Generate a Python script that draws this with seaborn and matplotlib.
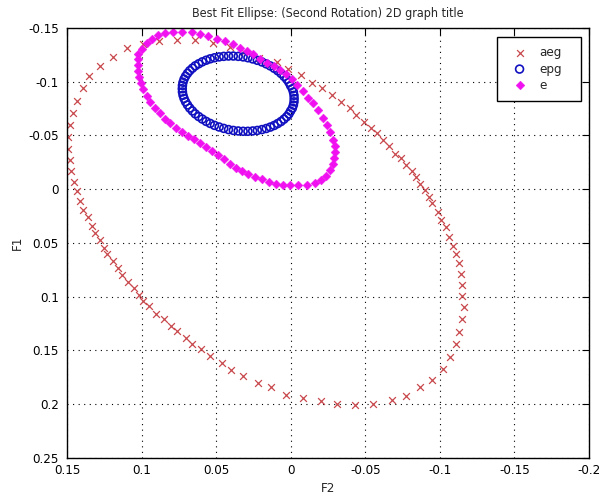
import matplotlib
matplotlib.use('Agg')
import matplotlib.pyplot as plt
import pandas as pd
import seaborn as sns

# aeg: red crosses (F2 on x, F1 on y)
aeg_f2 = [0.149, 0.149, 0.148, 0.146, 0.143, 0.139, 0.135, 0.128, 0.119, 0.110,
          0.099, 0.088, 0.076, 0.064, 0.052, 0.041, 0.031, 0.021, 0.009, 0.002,
          -0.007, -0.014, -0.021, -0.028, -0.034, -0.040, -0.044, -0.049, -0.054, -0.058,
          -0.062, -0.066, -0.070, -0.074, -0.077, -0.081, -0.084, -0.087, -0.090, -0.093,
          -0.095, -0.099, -0.101, -0.104, -0.106, -0.109, -0.111, -0.113, -0.114, -0.115,
          -0.115, -0.116, -0.115, -0.113, -0.111, -0.107, -0.102, -0.095, -0.087, -0.077,
          -0.068, -0.055, -0.043, -0.031, -0.020, -0.008, 0.003, 0.013, 0.022, 0.032,
          0.040, 0.046, 0.054, 0.060, 0.066, 0.070, 0.076, 0.080, 0.085, 0.090,
          0.095, 0.099, 0.102, 0.105, 0.109, 0.113, 0.116, 0.119, 0.123, 0.125,
          0.128, 0.131, 0.133, 0.136, 0.139, 0.141, 0.143, 0.145, 0.147, 0.148]
aeg_f1 = [-0.037, -0.049, -0.060, -0.071, -0.082, -0.094, -0.105, -0.115, -0.123, -0.131,
          -0.135, -0.138, -0.139, -0.139, -0.136, -0.132, -0.128, -0.122, -0.118, -0.112,
          -0.106, -0.099, -0.094, -0.088, -0.081, -0.076, -0.069, -0.063, -0.057, -0.052,
          -0.046, -0.040, -0.033, -0.029, -0.023, -0.017, -0.011, -0.005, 0.001, 0.007,
          0.013, 0.021, 0.029, 0.035, 0.044, 0.053, 0.060, 0.069, 0.079, 0.089,
          0.099, 0.110, 0.121, 0.133, 0.144, 0.156, 0.167, 0.177, 0.184, 0.192,
          0.196, 0.200, 0.201, 0.200, 0.197, 0.194, 0.191, 0.184, 0.180, 0.174,
          0.168, 0.162, 0.155, 0.149, 0.144, 0.138, 0.132, 0.127, 0.121, 0.116,
          0.109, 0.104, 0.098, 0.092, 0.086, 0.080, 0.073, 0.067, 0.060, 0.055,
          0.047, 0.041, 0.034, 0.026, 0.019, 0.011, 0.002, -0.007, -0.017, -0.027]

# epg: blue open circles
epg_f2 = [-0.0023, -0.0022, -0.0018, -0.0011, 0.0001, 0.0012, 0.0027, 0.0045, 0.0065,
          0.0087, 0.0111, 0.0137, 0.0164, 0.0193, 0.0224, 0.0255, 0.0287, 0.0319,
          0.0352, 0.0385, 0.0417, 0.0449, 0.0480, 0.0511, 0.0540, 0.0567, 0.0593,
          0.0617, 0.0640, 0.0659, 0.0677, 0.0692, 0.0705, 0.0715, 0.0722, 0.0726,
          0.0727, 0.0726, 0.0722, 0.0715, 0.0705, 0.0692, 0.0677, 0.0659, 0.0640,
          0.0617, 0.0593, 0.0567, 0.0540, 0.0511, 0.0480, 0.0449, 0.0417, 0.0385,
          0.0352, 0.0319, 0.0287, 0.0255, 0.0224, 0.0193, 0.0164, 0.0137, 0.0111,
          0.0087, 0.0065, 0.0045, 0.0027, 0.0012, 0.0001, -0.0011, -0.0018, -0.0022]
epg_f1 = [-0.0843, -0.0813, -0.0783, -0.0754, -0.0727, -0.0700, -0.0675, -0.0652, -0.0630,
          -0.0611, -0.0593, -0.0578, -0.0565, -0.0555, -0.0547, -0.0542, -0.0539, -0.0539,
          -0.0542, -0.0547, -0.0555, -0.0566, -0.0579, -0.0594, -0.0612, -0.0631, -0.0653,
          -0.0676, -0.0701, -0.0728, -0.0755, -0.0784, -0.0814, -0.0844, -0.0874, -0.0905,
          -0.0935, -0.0965, -0.0995, -0.1024, -0.1051, -0.1078, -0.1103, -0.1126, -0.1148,
          -0.1167, -0.1185, -0.1200, -0.1213, -0.1223, -0.1231, -0.1236, -0.1239, -0.1239,
          -0.1236, -0.1231, -0.1223, -0.1212, -0.1199, -0.1184, -0.1166, -0.1147, -0.1125,
          -0.1102, -0.1077, -0.1050, -0.1023, -0.0994, -0.0964, -0.0934, -0.0904, -0.0873]

# e: magenta filled diamonds
e_f2 = [0.0945, 0.0912, 0.0878, 0.0845, 0.0811, 0.0771, 0.0731, 0.0690, 0.0650, 0.0610,
        0.0570, 0.0529, 0.0489, 0.0449, 0.0409, 0.0369, 0.0328, 0.0288, 0.0241, 0.0194,
        0.0147, 0.0101, 0.0054, 0.0007, -0.0047, -0.0107, -0.0161, -0.0201, -0.0235, -0.0261,
        -0.0282, -0.0288, -0.0295, -0.0295, -0.0282, -0.0261, -0.0241, -0.0214, -0.0181, -0.0147,
        -0.0114, -0.0080, -0.0040, -0.0007, 0.0034, 0.0074, 0.0114, 0.0161, 0.0208, 0.0255,
        0.0295, 0.0342, 0.0389, 0.0442, 0.0496, 0.0556, 0.0610, 0.0664, 0.0731, 0.0791,
        0.0845, 0.0891, 0.0932, 0.0965, 0.0999, 0.1025, 0.1025, 0.1025, 0.1025, 0.1019,
        0.1005, 0.0992, 0.0965]
e_f1 = [-0.0815, -0.0759, -0.0713, -0.0657, -0.0620, -0.0574, -0.0528, -0.0491, -0.0463, -0.0426,
        -0.0389, -0.0352, -0.0315, -0.0278, -0.0231, -0.0194, -0.0167, -0.0139, -0.0111, -0.0093,
        -0.0065, -0.0046, -0.0037, -0.0037, -0.0037, -0.0037, -0.0056, -0.0083, -0.0120, -0.0176,
        -0.0231, -0.0287, -0.0343, -0.0398, -0.0454, -0.0528, -0.0602, -0.0667, -0.0741, -0.0806,
        -0.0852, -0.0917, -0.0972, -0.1028, -0.1074, -0.1111, -0.1148, -0.1176, -0.1213, -0.1259,
        -0.1287, -0.1315, -0.1352, -0.1380, -0.1398, -0.1426, -0.1444, -0.1463, -0.1463, -0.1463,
        -0.1454, -0.1435, -0.1398, -0.1361, -0.1306, -0.1259, -0.1213, -0.1157, -0.1102, -0.1046,
        -0.0991, -0.0935, -0.0870]

x_ticks = [0.15, 0.1, 0.05, 0, -0.05, -0.1, -0.15, -0.2]
x_tick_labels = ['0.15', '0.1', '0.05', '0', '-0.05', '-0.1', '-0.15', '-0.2']
y_ticks = [-0.15, -0.1, -0.05, 0, 0.05, 0.1, 0.15, 0.2, 0.25]
y_tick_labels = ['-0.15', '-0.1', '-0.05', '0', '0.05', '0.1', '0.15', '0.2', '0.25']

RED = '#c8484c'
BLUE = '#1010c0'
MAGENTA = '#f010f0'


def main():
    sns.set_style('white')
    plt.rcParams['font.family'] = ['Liberation Sans Narrow', 'DejaVu Sans', 'Liberation Sans']
    plt.rcParams['font.stretch'] = 'condensed'
    plt.rcParams['font.size'] = 9.5

    fig = plt.figure(figsize=(6.02, 4.97), dpi=100)
    ax = fig.add_axes([0.1113, 0.0785, 0.8671, 0.8652])

    aeg = pd.DataFrame({'F2': aeg_f2, 'F1': aeg_f1})
    epg = pd.DataFrame({'F2': epg_f2, 'F1': epg_f1})
    e = pd.DataFrame({'F2': e_f2, 'F1': e_f1})

    sns.scatterplot(data=aeg, x='F2', y='F1', marker='x', color=RED, s=24,
                    linewidth=0.9, label='aeg', ax=ax)
    sns.scatterplot(data=epg, x='F2', y='F1', marker='o', s=32, facecolor='none',
                    edgecolor=BLUE, linewidth=1.2, label='epg', ax=ax)
    sns.scatterplot(data=e, x='F2', y='F1', marker='D', s=20, color=MAGENTA,
                    edgecolor=MAGENTA, linewidth=0.3, label='e', ax=ax)

    ax.set_xlim(0.15, -0.2)
    ax.set_ylim(0.25, -0.15)
    ax.set_xticks(x_ticks)
    ax.set_xticklabels(x_tick_labels)
    ax.set_yticks(y_ticks)
    ax.set_yticklabels(y_tick_labels)
    ax.tick_params(direction='in', top=True, right=True, length=5, width=0.8,
                   labelsize=9.5, color='black', labelcolor='black')
    ax.tick_params(axis='y', pad=6)
    ax.tick_params(axis='x', pad=4)
    for sp in ax.spines.values():
        sp.set_color('black')
        sp.set_linewidth(1.0)
    ax.set_axisbelow(True)
    ax.grid(True, linestyle=(0, (1, 4)), color='black', linewidth=0.8)

    ax.set_title('Best Fit Ellipse: (Second Rotation) 2D graph title', fontsize=9, pad=8)
    ax.set_xlabel('F2', fontsize=9.5, labelpad=4)
    ax.set_ylabel('F1', fontsize=9.5, labelpad=3)

    ax.legend(loc='upper left', bbox_to_anchor=(0.824, 0.828, 0.161, 0.151),
              mode='expand', borderaxespad=0, frameon=True, fancybox=False,
              edgecolor='black', framealpha=1, borderpad=0.7, labelspacing=0.25,
              handletextpad=0.5, fontsize=9.5)

    fig.savefig('out.png', dpi=100)


if __name__ == '__main__':
    main()
